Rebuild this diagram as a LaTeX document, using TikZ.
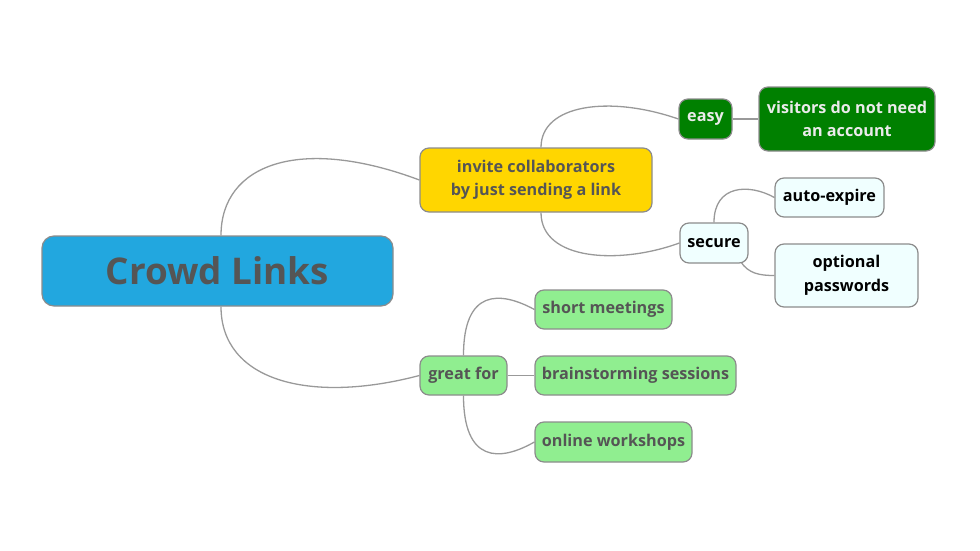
\documentclass[tikz,border=0pt]{standalone}
\usepackage{fontspec}
\setmainfont{Open Sans}
\usetikzlibrary{backgrounds}
\definecolor{rootblue}{HTML}{22A7DF}
\definecolor{gold}{HTML}{FFD600}
\definecolor{darkgrn}{HTML}{008000}
\definecolor{azure}{HTML}{F0FFFF}
\definecolor{lightgrn}{HTML}{90EE90}
\definecolor{txtgray}{HTML}{555555}
\definecolor{linegray}{HTML}{999999}
\definecolor{boxline}{HTML}{8C8C8C}
\tikzset{
  topic/.style={draw=boxline,line width=1.2pt,rounded corners=9pt,align=center,
    font=\fontsize{16.2}{23.5}\selectfont\bfseries,inner sep=0pt},
  link/.style={draw=linegray,line width=1.3pt}
}
\begin{document}
\begin{tikzpicture}[x=1pt,y=-1pt]
  \useasboundingbox (0,0) rectangle (980,551);

  \begin{scope}[every node/.style={topic}]
    \node[fill=rootblue,text=txtgray,minimum width=351,minimum height=70,rounded corners=12pt,
      font=\fontsize{36.8}{40}\selectfont\bfseries] (root) at (217.5,271) {Crowd Links};
    \node[fill=gold,text=txtgray,minimum width=232,minimum height=64] (invite) at (536,180)
      {invite collaborators\\by just sending a link};
    \node[fill=darkgrn,text=white!92!black,minimum width=53,minimum height=40] (easy) at (705.5,119) {easy};
    \node[fill=darkgrn,text=white!92!black,minimum width=176,minimum height=64] (visitors) at (847,119)
      {visitors do not need\\an account};
    \node[fill=azure,text=black,minimum width=68,minimum height=40] (secure) at (714,243) {secure};
    \node[fill=azure,text=black,minimum width=109,minimum height=39] (expire) at (829.5,197.5) {auto-expire};
    \node[fill=azure,text=black,minimum width=143,minimum height=63] (passwd) at (846.5,275.5)
      {optional\\passwords};
    \node[fill=lightgrn,text=txtgray,minimum width=87,minimum height=39] (great) at (463.5,375.5) {great for};
    \node[fill=lightgrn,text=txtgray,minimum width=137,minimum height=39] (short) at (603.5,309.5) {short meetings};
    \node[fill=lightgrn,text=txtgray,minimum width=201,minimum height=39] (brain) at (635.5,375.5)
      {brainstorming sessions};
    \node[fill=lightgrn,text=txtgray,minimum width=157,minimum height=40] (online) at (613.5,442) {online workshops};
  \end{scope}

  % connectors
  \begin{scope}[on background layer,every path/.style={link}]
    \path ([xshift=3.5]root.north) .. controls +(0,-71) and +(-120,-45) .. (invite.west);
    \path ([xshift=3.5]root.south) .. controls +(0,74) and +(-110,29) .. (great.west);
    \path ([xshift=5]invite.north) .. controls +(0,-43) and +(-69,-24) .. (easy.west);
    \path ([xshift=5]invite.south) .. controls +(0,48) and +(-60,22) .. (secure.west);
    \path (secure.north) .. controls +(0,-38) and +(-25,-14) .. (expire.west);
    \path ([shift={(-8,-2)}]secure.south east) .. controls +(8,12) and +(-15,0) .. (passwd.west);
    \path (great.north) .. controls +(0,-66) and +(-35,-19) .. (short.west);
    \path (great.east) -- (brain.west);
    \path (great.south) .. controls +(0,67) and +(-35,20) .. (online.west);
    \path (easy.east) -- (visitors.west);
  \end{scope}
\end{tikzpicture}
\end{document}
